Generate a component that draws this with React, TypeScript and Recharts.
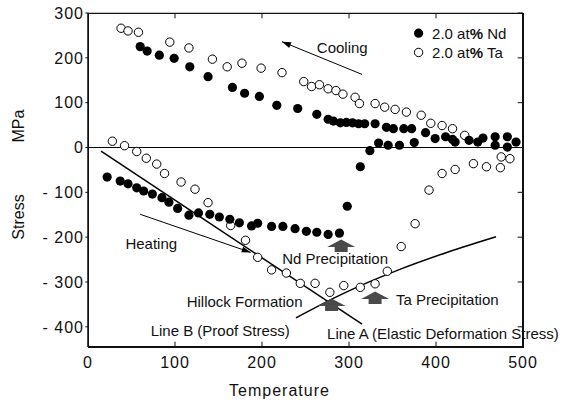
import React from 'react';
import {
    ComposedChart,
    Line,
    Scatter,
    XAxis,
    YAxis,
    ReferenceLine
} from 'recharts';

// tick values and axis range
const xTicks = [0, 100, 200, 300, 400, 500];
const yTicks = [-400, -300, -200, -100, 0, 100, 200, 300];
const xDomain: [number, number] = [0, 500];
const yDomain: [number, number] = [-445, 300];

// [temperature, stress]
const ndCooling: [number, number][] = [
    [60, 225], [68, 215], [82, 206], [99, 199], [117, 180], [138, 158], [166, 134], [180, 121],
    [197, 114], [217, 94], [241, 87], [263, 74], [276, 63], [282, 59], [290, 55], [297, 56],
    [304, 55], [311, 53], [318, 53], [330, 53], [343, 45], [351, 42], [363, 42], [372, 42],
    [388, 33], [399, 20], [411, 24], [419, 18], [422, 12], [438, 16], [448, 12], [454, 21],
    [468, 24], [468, 5], [482, 24], [482, 1], [492, 12]
];
const ndHeating: [number, number][] = [
    [22, -66], [37, -75], [46, -81], [56, -90], [64, -97], [74, -104], [85, -112], [93, -122],
    [103, -136], [116, -151], [127, -146], [140, -149], [151, -155], [163, -160], [174, -168],
    [188, -175], [195, -169], [211, -176], [224, -176], [238, -181], [251, -187], [263, -189],
    [276, -194], [289, -191], [298, -131], [313, -43], [324, -7], [334, 10], [345, 5], [358, 5],
    [375, 11]
];
const taCooling: [number, number][] = [
    [38, 266], [46, 260], [58, 257], [94, 235], [116, 222], [143, 197], [160, 180], [177, 188],
    [199, 177], [223, 167], [248, 147], [257, 136], [266, 140], [276, 131], [285, 127], [293, 119],
    [307, 112], [312, 98], [330, 98], [341, 90], [353, 85], [366, 79], [383, 72], [394, 54],
    [407, 49], [419, 42], [433, 27]
];
const taHeating: [number, number][] = [
    [28, 14], [42, 4], [56, -9], [67, -24], [79, -37], [88, -58], [107, -77], [123, -93],
    [138, -123], [164, -174], [181, -207], [195, -245], [211, -273], [228, -280], [244, -303],
    [261, -303], [278, -323], [294, -308], [313, -312], [330, -304], [344, -276], [360, -221],
    [376, -170], [392, -95], [407, -58], [422, -49], [443, -36], [458, -43], [474, -45],
    [475, -21], [485, -25]
];

// guide lines and arrows (tail, head)
const lineB: [number, number][] = [[15, -8], [315, -394]];
const lineA: [number, number][] = [[239, -380], [292, -327], [357, -273], [414, -233], [469, -199]];
const coolingArrow: [number, number][] = [[315, 163], [223, 236]];
const heatingArrow: [number, number][] = [[60, -149], [187, -234]];
const blockArrows: [number, number][] = [[291, -205], [280, -337], [330, -321]];

const notes = [
    { t: 263, s: 222, text: 'Cooling', anchor: 'start' },
    { t: 43, s: -215, text: 'Heating', anchor: 'start' },
    { t: 284, s: -248, text: 'Nd Precipitation', anchor: 'middle' },
    { t: 180, s: -344, text: 'Hillock Formation', anchor: 'middle' },
    { t: 413, s: -340, text: 'Ta Precipitation', anchor: 'middle' },
    { t: 152, s: -409, text: 'Line B (Proof Stress)', anchor: 'middle' },
    { t: 408, s: -415, text: 'Line A (Elastic Deformation Stress)', anchor: 'middle' }
];

// legend entries, placed in the upper right corner of the plot
const legendItems = [
    { t: 380, s: 255, name: 'Nd', filled: true },
    { t: 380, s: 212, name: 'Ta', filled: false }
];

const FONT = "'Liberation Sans', Arial, Helvetica, sans-serif";

const toRows = (pts: [number, number][]) => pts.map(([t, s]) => ({ t, s }));

const ndCoolRows = toRows(ndCooling);
const ndHeatRows = toRows(ndHeating);
const taCoolRows = toRows(taCooling);
const taHeatRows = toRows(taHeating);
const lineBRows = toRows(lineB);
const lineARows = toRows(lineA);
const coolArrowRows = toRows(coolingArrow);
const heatArrowRows = toRows(heatingArrow);
const blockArrowRows = toRows(blockArrows);

// plot frame and tick marks, built from the axis range and tick lists (nudged just inside the edges)
const [x0, x1] = xDomain;
const [y0, y1] = yDomain;
const ex = 0.4;
const ey = 0.8;
const frame = toRows([[x0 + ex, y0 + ey], [x0 + ex, y1 - ey], [x1 - ex, y1 - ey], [x1 - ex, y0 + ey], [x0 + ex, y0 + ey]]);
const tickMarks = [
    ...xTicks.map(t => ({ t: Math.min(Math.max(t, x0 + ex), x1 - ex), s: y0 + ey, dx: 0, dy: -5 })),
    ...xTicks.map(t => ({ t: Math.min(Math.max(t, x0 + ex), x1 - ex), s: y1 - ey, dx: 0, dy: 5 })),
    ...yTicks.map(s => ({ t: x1 - ex, s, dx: -5, dy: 0 })),
    ...yTicks.map(s => ({ t: x0 + ex, s, dx: -3, dy: 0 }))
];

const filledDot = (p: any) => <circle cx={p.cx} cy={p.cy} r={4.6} fill="#000" />;
const openDot = (p: any) => <circle cx={p.cx} cy={p.cy} r={4.2} fill="#fff" stroke="#000" strokeWidth={1} />;

const tickShape = (p: any) => (
    <path d={`M${p.cx},${p.cy} l${p.payload.dx},${p.payload.dy}`} stroke="#111" strokeWidth={1} fill="none" />
);

// arrow head drawn on the last point of a two-point line
const arrowHead = (p: any) => {
    const pts = p.points;
    if (p.index !== 1 || !pts || pts.length < 2) return <g key={p.key} />;
    const a = Math.atan2(pts[1].y - pts[0].y, pts[1].x - pts[0].x);
    const deg = (a * 180) / Math.PI;
    return (
        <polygon key={p.key} points="0,0 -9,-3 -9,3" fill="#000"
                 transform={`translate(${p.cx},${p.cy}) rotate(${deg})`} />
    );
};

const blockArrow = (p: any) => {
    const { cx, cy } = p;
    const pts = [
        [cx, cy], [cx + 14, cy + 7.5], [cx + 6.5, cy + 7.5], [cx + 6.5, cy + 12.5],
        [cx - 6.5, cy + 12.5], [cx - 6.5, cy + 7.5], [cx - 14, cy + 7.5]
    ].map(q => q.join(',')).join(' ');
    return <polygon points={pts} fill="#4a4a4a" />;
};

const noteText = (p: any) => (
    <text x={p.cx} y={p.cy} textAnchor={p.payload.anchor} dominantBaseline="central"
          fontSize={15} fontFamily={FONT} fill="#111">
        {p.payload.text}
    </text>
);

const legendEntry = (p: any) => (
    <g>
        {p.payload.filled
            ? <circle cx={p.cx} cy={p.cy} r={4.6} fill="#000" />
            : <circle cx={p.cx} cy={p.cy} r={4.2} fill="#fff" stroke="#000" />}
        <text x={p.cx + 13.5} y={p.cy} dominantBaseline="central" fontSize={15} fontFamily={FONT} fill="#111">
            2.0 at<tspan fontWeight="bold">%</tspan> {p.payload.name}
        </text>
    </g>
);

const yTitle = (p: any) => {
    const vb = p.viewBox;
    const x = vb.x + 18;
    return (
        <g fontFamily={FONT} fontSize={16} fill="#111">
            <text x={x} y={126} transform={`rotate(-90 ${x} 126)`} textAnchor="middle" dominantBaseline="central">MPa</text>
            <text x={x} y={217} transform={`rotate(-90 ${x} 217)`} textAnchor="middle" dominantBaseline="central">Stress</text>
        </g>
    );
};

const fmtY = (v: number) => (v < 0 ? `- ${-v}` : `${v}`);

const tickStyle = { fontSize: 16, fontFamily: FONT, fill: '#111', letterSpacing: 1 };
const axisLineStyle = { stroke: '#111', strokeWidth: 1.3 };
const xLabel = {
    value: 'Temperature', position: 'insideBottom', offset: 7, dx: -26,
    style: { fontSize: 16, fontFamily: FONT, fill: '#111', letterSpacing: 1 }
};
const chartMargin = { top: 13, right: 38, left: 0, bottom: 0 };

export default function App() {
    return (
        <div style={{ position: 'absolute', left: 0, top: 0, width: 561, height: 403, background: '#fff' }}>
            <ComposedChart width={561} height={403} margin={chartMargin}>
                <XAxis xAxisId="b" type="number" dataKey="t" domain={xDomain} ticks={xTicks}
                       axisLine={axisLineStyle} tickLine={false} tickSize={0} tickMargin={10} height={56}
                       stroke="#111" tick={tickStyle} label={xLabel} />
                <YAxis yAxisId="l" type="number" dataKey="s" domain={yDomain} ticks={yTicks}
                       axisLine={axisLineStyle} tickLine={false} tickSize={0} tickMargin={4} width={88}
                       stroke="#111" tick={tickStyle} tickFormatter={fmtY} label={yTitle} />

                <ReferenceLine xAxisId="b" yAxisId="l" y={0} stroke="#000" strokeWidth={1} />

                <Line xAxisId="b" yAxisId="l" data={frame} dataKey="s" type="linear"
                      stroke="#111" strokeWidth={1.3} dot={false} isAnimationActive={false} />
                <Scatter xAxisId="b" yAxisId="l" data={tickMarks} dataKey="s"
                         shape={tickShape} isAnimationActive={false} />

                <Line xAxisId="b" yAxisId="l" data={lineBRows} dataKey="s" type="linear"
                      stroke="#000" strokeWidth={1.5} dot={false} isAnimationActive={false} />
                <Line xAxisId="b" yAxisId="l" data={lineARows} dataKey="s" type="monotone"
                      stroke="#000" strokeWidth={1.5} dot={false} isAnimationActive={false} />
                <Line xAxisId="b" yAxisId="l" data={coolArrowRows} dataKey="s" type="linear"
                      stroke="#000" strokeWidth={1} dot={arrowHead} isAnimationActive={false} />
                <Line xAxisId="b" yAxisId="l" data={heatArrowRows} dataKey="s" type="linear"
                      stroke="#000" strokeWidth={1} dot={arrowHead} isAnimationActive={false} />

                <Scatter xAxisId="b" yAxisId="l" name="Ta cooling" data={taCoolRows} dataKey="s"
                         shape={openDot} isAnimationActive={false} />
                <Scatter xAxisId="b" yAxisId="l" name="Ta heating" data={taHeatRows} dataKey="s"
                         shape={openDot} isAnimationActive={false} />
                <Scatter xAxisId="b" yAxisId="l" name="Nd cooling" data={ndCoolRows} dataKey="s"
                         shape={filledDot} isAnimationActive={false} />
                <Scatter xAxisId="b" yAxisId="l" name="Nd heating" data={ndHeatRows} dataKey="s"
                         shape={filledDot} isAnimationActive={false} />

                <Scatter xAxisId="b" yAxisId="l" data={blockArrowRows} dataKey="s"
                         shape={blockArrow} isAnimationActive={false} />
                <Scatter xAxisId="b" yAxisId="l" data={notes} dataKey="s"
                         shape={noteText} isAnimationActive={false} />
                <Scatter xAxisId="b" yAxisId="l" data={legendItems} dataKey="s"
                         shape={legendEntry} isAnimationActive={false} />
            </ComposedChart>
            {/* fallback plot border */}
            <div style={{
                position: 'absolute', left: 88, top: 13, width: 436, height: 335,
                boxSizing: 'border-box', border: '1px solid #111', pointerEvents: 'none'
            }} />
        </div>
    );
}
